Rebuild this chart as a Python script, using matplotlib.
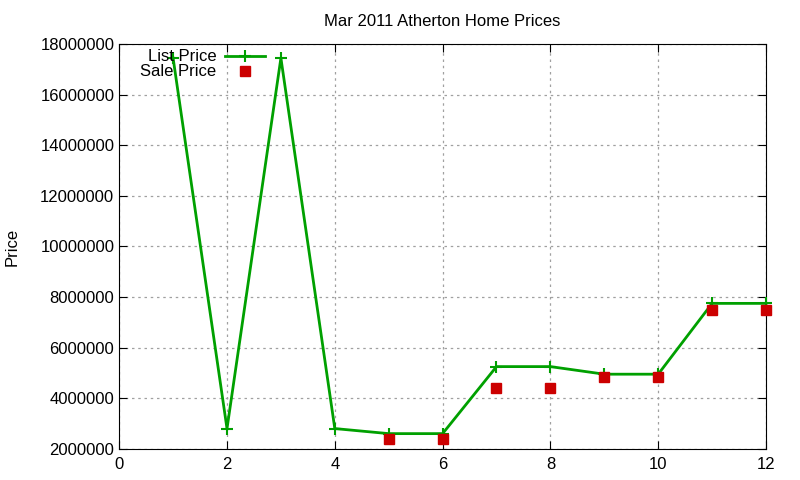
import matplotlib.pyplot as plt
import numpy as np

# listing index and prices
idx = [1, 2, 3, 4, 5, 6, 7, 8, 9, 10, 11, 12]
list_price = [17450000, 2800000, 17450000, 2800000, 2600000, 2600000,
              5250000, 5250000, 4950000, 4950000, 7750000, 7750000]
sale_price = [np.nan, np.nan, np.nan, np.nan, 2400000, 2400000,
              4420000, 4420000, 4820000, 4820000, 7500000, 7500000]

xticks = [0, 2, 4, 6, 8, 10, 12]
yticks = list(range(2000000, 18000001, 2000000))

green = '#00a000'
red = '#cc0000'

plt.rcParams['font.family'] = ['Liberation Sans', 'DejaVu Sans']

fig = plt.figure(figsize=(8, 4.8), dpi=100)
ax = fig.add_axes([0.149, 0.065, 0.8085, 0.843])

ax.plot(idx, list_price, color=green, lw=2, marker='+', ms=9, mew=1.5,
        clip_on=False, zorder=3)
ax.plot(idx, sale_price, ls='none', color=red, marker='s', ms=6.5,
        clip_on=False, zorder=4)

ax.set_xlim(0, 12)
ax.set_ylim(2000000, 18000000)
ax.set_xticks(xticks)
ax.set_yticks(yticks)
ax.set_yticklabels([str(v) for v in yticks])
ax.tick_params(direction='in', top=True, right=True, labelsize=12, length=6)
ax.tick_params(axis='x', pad=6)
ax.grid(True, color='#a0a0a0', ls=(0, (2, 3)), lw=0.9)

ax.set_title('Mar 2011 Atherton Home Prices', fontsize=12, pad=13)
ax.set_ylabel('Price', fontsize=12, labelpad=15)

# gnuplot-style key: right aligned labels, sample after
tr = ax.transAxes
ax.text(0.150, 0.970, 'List Price', transform=tr, ha='right', va='center', fontsize=12)
ax.text(0.150, 0.933, 'Sale Price', transform=tr, ha='right', va='center', fontsize=12)
ax.plot([0.164, 0.226], [0.970, 0.970], transform=tr, color=green, lw=2, clip_on=False)
ax.plot([0.195], [0.970], transform=tr, color=green, marker='+', ms=9, mew=1.5, clip_on=False)
ax.plot([0.195], [0.933], transform=tr, color=red, marker='s', ms=6.5, ls='none', clip_on=False)

fig.savefig('out.png', dpi=100)
